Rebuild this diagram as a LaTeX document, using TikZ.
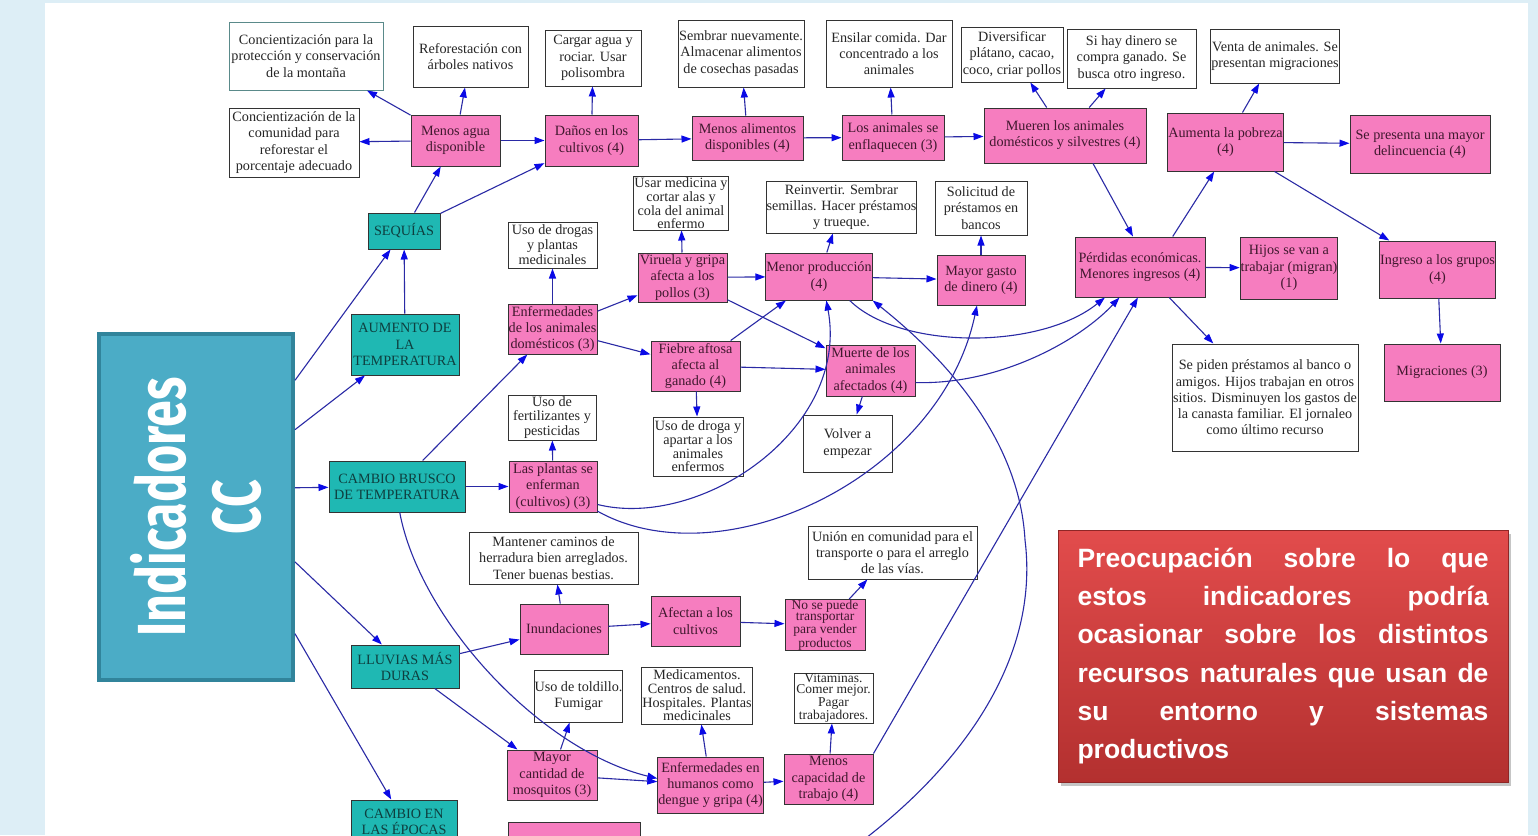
\documentclass[tikz,border=0pt]{standalone}
\usepackage{fontspec}
\setmainfont{Liberation Serif}
\newfontfamily\indfont{Fira Sans}
\newfontfamily\preofont{Liberation Sans}
\usepackage{tikz}
\usetikzlibrary{arrows.meta,shadows}
\definecolor{ccfondo}{HTML}{DDEEF6}
\definecolor{ccind}{HTML}{4BACC6}
\definecolor{ccindborde}{HTML}{31849B}
\definecolor{ccrosa}{HTML}{F67DBF}
\definecolor{ccturq}{HTML}{1FB8B3}
\definecolor{ccarista}{HTML}{2A2AA5}
\definecolor{ccpunta}{HTML}{0A0AE6}
\definecolor{ccverdoso}{HTML}{5A8A8A}
\definecolor{ccrojo1}{HTML}{E24C4C}
\definecolor{ccrojo2}{HTML}{B3302F}

\newcommand{\lineajust}[1]{\leavevmode\makebox[411pt][l]{#1}}

\tikzset{
  tam/.style 2 args={minimum width=#1pt, minimum height=#2pt},
  caja/.style={draw=black!80, line width=1pt, align=center, inner sep=0.5pt,
    font=\fontsize{14.2}{16.2}\selectfont, text=black!85},
  efecto/.style={caja, fill=ccrosa, text={rgb,255:red,64;green,24;blue,46}},
  accion/.style={caja, fill=white},
  indicador/.style={caja, fill=ccturq, text={rgb,255:red,14;green,63;blue,63}},
  apretado/.style={font=\fontsize{14.2}{12.7}\selectfont},
  flecha/.style={draw=ccarista, line width=1.1pt,
    -{Triangle[length=10pt,width=7pt,color=ccpunta]}},
  indbox/.style={draw=ccindborde, line width=4pt, fill=ccind},
  indtexto/.style={rotate=90, text=white, align=center, inner sep=0pt,
    font=\indfont\bfseries\fontsize{68}{75}\selectfont},
  preocupa/.style={draw=ccrojo2!80!black, line width=1pt, top color=ccrojo1,
    bottom color=ccrojo2, drop shadow={opacity=0.45, shadow xshift=3pt, shadow yshift=-4pt},
    text=white, align=left, inner sep=0pt,
    font=\preofont\bfseries\fontsize{26.5}{38.2}\selectfont}
}

\begin{document}
\begin{tikzpicture}[x=1pt, y=-1pt]
\useasboundingbox (0,0) rectangle (1538,835);
\clip (0,0) rectangle (1538,835);
\fill[ccfondo] (0,0) rectangle (1538,835);
\fill[white] (45,3) rectangle (1528,835);

% indicadores
\node[indbox, tam={194}{346}] (ind) at (196,507) {};
\node[indtexto] (indtxt) at (ind.center) {\scalebox{0.71}[1]{Indicadores}\\\scalebox{0.71}[1]{CC}};

\node[indicador, tam={72}{36}] (sequias) at (404,231) {SEQUÍAS};
\node[indicador, tam={108}{61}] (aumento) at (405,344.5) {AUMENTO DE\\LA\\TEMPERATURA};
\node[indicador, tam={136}{51}] (cambioB) at (397,486.5) {CAMBIO BRUSCO\\DE TEMPERATURA};
\node[indicador, tam={108}{43}] (lluvias) at (405,666.5) {LLUVIAS MÁS\\DURAS};
\node[indicador, tam={106}{43}] (cambioE) at (404,821.5) {CAMBIO EN\\LAS ÉPOCAS};

% efectos
\node[efecto, tam={89}{51}] (mAgua) at (455.5,140.5) {Menos agua\\disponible};
\node[efecto, tam={93}{51}] (dCult) at (591.5,140.5) {Daños en los\\cultivos (4)};
\node[efecto, tam={111}{44}] (mAlim) at (747.5,138) {Menos alimentos\\disponibles (4)};
\node[efecto, tam={102}{45}] (aEnfl) at (893,137.5) {Los animales se\\enflaquecen (3)};
\node[efecto, tam={162}{55}] (mueren) at (1065,135.5) {Mueren los animales\\domésticos y silvestres (4)};
\node[efecto, tam={115}{58}] (pobreza) at (1225.5,142) {Aumenta la pobreza\\(4)};
\node[efecto, tam={140}{58}] (delinc) at (1420,144) {Se presenta una mayor\\delincuencia (4)};
\node[efecto, tam={130}{60}] (perdidas) at (1140,267) {Pérdidas económicas.\\Menores ingresos (4)};
\node[efecto, tam={96}{62}] (hijos) at (1289,268) {Hijos se van a\\trabajar (migran)\\(1)};
\node[efecto, tam={115}{57}] (ingreso) at (1437.5,269.5) {Ingreso a los grupos\\(4)};
\node[efecto, tam={116}{57}] (migr) at (1442,372.5) {Migraciones (3)};
\node[efecto, tam={89}{49}] (viruela) at (682.5,277.5) {Viruela y gripa\\afecta a los\\pollos (3)};
\node[efecto, tam={89}{50}] (enfAnim) at (552.5,329) {Enfermedades\\de los animales\\domésticos (3)};
\node[efecto, tam={89}{50}] (fiebre) at (695.5,366) {Fiebre aftosa\\afecta al\\ganado (4)};
\node[efecto, tam={106}{47}] (menorProd) at (819,276.5) {Menor producción\\(4)};
\node[efecto, tam={88}{50}] (mGasto) at (981,280) {Mayor gasto\\de dinero (4)};
\node[efecto, tam={89}{51}] (muerte) at (870.5,370.5) {Muerte de los\\animales\\afectados (4)};
\node[efecto, tam={88}{51}] (plantas) at (553,486.5) {Las plantas se\\enferman\\(cultivos) (3)};
\node[efecto, tam={88}{50}] (inund) at (564,629) {Inundaciones};
\node[efecto, tam={89}{50}] (afectan) at (695.5,621) {Afectan a los\\cultivos};
\node[efecto, tam={80}{50}, font=\fontsize{13.5}{11.3}\selectfont] (noTransp) at (825,625) {No se puede\\transportar\\para vender\\productos};
\node[efecto, tam={90}{50}] (mosq) at (552,775) {Mayor\\cantidad de\\mosquitos (3)};
\node[efecto, tam={105}{56}] (enfHum) at (710.5,785) {Enfermedades en\\humanos como\\dengue y gripa (4)};
\node[efecto, tam={89}{50}] (menosCap) at (828.5,779) {Menos\\capacidad de\\trabajo (4)};
\node[efecto, tam={132}{40}, anchor=north west] (cortado) at (508,822) {};

% acciones
\node[accion, tam={154}{68}, draw=ccverdoso] (concProt) at (306,56) {Concientización para la\\protección y conservación\\de la montaña};
\node[accion, tam={115}{61}] (refor) at (470.5,56.5) {Reforestación con\\árboles nativos};
\node[accion, tam={96}{56}] (cargar) at (593,58) {Cargar agua y\\rociar. Usar\\polisombra};
\node[accion, tam={130}{69}] (concCom) at (294,142.5) {Concientización de la\\comunidad para\\reforestar el\\porcentaje adecuado};
\node[accion, tam={126}{67}] (sembrar) at (741,53.5) {Sembrar nuevamente.\\Almacenar alimentos\\de cosechas pasadas};
\node[accion, tam={126}{67}] (ensilar) at (889,53.5) {Ensilar comida. Dar\\concentrado a los\\animales};
\node[accion, tam={102}{55}] (divers) at (1012,54.5) {Diversificar\\plátano, cacao,\\coco, criar pollos};
\node[accion, tam={129}{59}] (siDinero) at (1131.5,58.5) {Si hay dinero se\\compra ganado. Se\\busca otro ingreso.};
\node[accion, tam={126}{54}] (venta) at (1275,56) {Venta de animales. Se\\presentan migraciones};
\node[accion, tam={92}{54}, apretado] (usarMed) at (681,203) {Usar medicina y\\cortar alas y\\cola del animal\\enfermo};
\node[accion, tam={89}{46}, font=\fontsize{14.2}{15}\selectfont] (usoDrogas) at (552.5,245) {Uso de drogas\\y plantas\\medicinales};
\node[accion, tam={149}{52}] (reinv) at (841.5,207) {Reinvertir. Sembrar\\semillas. Hacer préstamos\\y trueque.};
\node[accion, tam={92}{54}] (solic) at (981,208) {Solicitud de\\préstamos en\\bancos};
\node[accion, tam={186}{107}] (sePiden) at (1265,397.5) {Se piden préstamos al banco o\\amigos. Hijos trabajan en otros\\sitios. Disminuyen los gastos de\\la canasta familiar. El jornaleo\\como último recurso};
\node[accion, tam={88}{45}, font=\fontsize{14.2}{14.5}\selectfont] (usoFert) at (552,417.5) {Uso de\\fertilizantes y\\pesticidas};
\node[accion, tam={90}{59}, font=\fontsize{14.2}{13.7}\selectfont] (usoDroga) at (698,446.5) {Uso de droga y\\apartar a los\\animales\\enfermos};
\node[accion, tam={89}{57}] (volver) at (847.5,443.5) {Volver a\\empezar};
\node[accion, tam={169}{52}] (mantener) at (553.5,558) {Mantener caminos de\\herradura bien arreglados.\\Tener buenas bestias.};
\node[accion, tam={169}{53}] (union) at (892.5,552.5) {Unión en comunidad para el\\transporte o para el arreglo\\de las vías.};
\node[accion, tam={87}{52}] (toldillo) at (578.5,696) {Uso de toldillo.\\Fumigar};
\node[accion, tam={110}{57}, font=\fontsize{14.2}{13.7}\selectfont] (medic) at (697,695.5) {Medicamentos.\\Centros de salud.\\Hospitales. Plantas\\medicinales};
\node[accion, tam={79}{50}, font=\fontsize{13.5}{11}\selectfont] (vitam) at (833.5,698) {Vitaminas.\\Comer mejor.\\Pagar\\trabajadores.};

\coordinate (abajo) at (850,850);

% conexiones
\draw[flecha] (ind.52) -- (sequias);
\draw[flecha] (ind.38) -- (aumento);
\draw[flecha] (ind.11) -- (cambioB);
\draw[flecha] (ind.-29) -- (lluvias);
\draw[flecha] (ind.-52) -- (cambioE);
\draw[flecha] (aumento) -- (sequias);
\draw[flecha] (sequias) -- (mAgua);
\draw[flecha] (sequias) -- (dCult);
\draw[flecha] (mAgua) -- (concProt);
\draw[flecha] (mAgua) -- (refor);
\draw[flecha] (mAgua) -- (concCom);
\draw[flecha] (mAgua) -- (dCult);
\draw[flecha] (dCult) -- (cargar);
\draw[flecha] (dCult) -- (mAlim);
\draw[flecha] (mAlim) -- (sembrar);
\draw[flecha] (mAlim) -- (aEnfl);
\draw[flecha] (aEnfl) -- (ensilar);
\draw[flecha] (aEnfl) -- (mueren);
\draw[flecha] (mueren) -- (divers);
\draw[flecha] (mueren) -- (siDinero);
\draw[flecha] (mueren.-45) -- (perdidas.103);
\draw[flecha] (perdidas.43) -- (pobreza.-111);
\draw[flecha] (pobreza) -- (venta);
\draw[flecha] (pobreza) -- (delinc);
\draw[flecha] (pobreza) -- (ingreso);
\draw[flecha] (ingreso) -- (migr);
\draw[flecha] (perdidas) -- (hijos);
\draw[flecha] (perdidas) -- (sePiden);
\draw[flecha] (cambioB) -- (enfAnim);
\draw[flecha] (cambioB) -- (plantas);
\draw[flecha] (enfAnim) -- (usoDrogas);
\draw[flecha] (enfAnim) -- (viruela);
\draw[flecha] (enfAnim) -- (fiebre);
\draw[flecha] (viruela) -- (usarMed);
\draw[flecha] (viruela) -- (menorProd);
\draw[flecha] (viruela) -- (muerte);
\draw[flecha] (fiebre) -- (menorProd);
\draw[flecha] (fiebre) -- (muerte);
\draw[flecha] (fiebre) -- (usoDroga);
\draw[flecha] (menorProd) -- (reinv);
\draw[flecha] (menorProd) -- (mGasto);
\draw[flecha] (mGasto) -- (solic);
\draw[flecha] (muerte) -- (volver);
\draw[flecha] (menorProd.-38) .. controls (900,350) and (1040,350) .. (perdidas.-139);
\draw[flecha] (muerte.-15) .. controls (1000,385) and (1080,340) .. (perdidas.-124);
\draw[flecha] (plantas.-22) .. controls (700,530) and (850,430) .. (menorProd.-73);
\draw[flecha] (plantas.-29) .. controls (720,580) and (940,480) .. (mGasto.-99);
\draw[flecha] (abajo) .. controls (960,770) and (1040,660) .. (1025,540) .. controls (1020,450) and (960,370) .. (menorProd.south east);
\draw[flecha] (menosCap.north east) -- (perdidas.-94);
\draw[flecha] (plantas) -- (usoFert);
\draw[flecha] (lluvias) -- (inund);
\draw[flecha] (lluvias) -- (mosq);
\draw[flecha] (inund) -- (mantener);
\draw[flecha] (inund) -- (afectan);
\draw[flecha] (afectan) -- (noTransp);
\draw[flecha] (noTransp) -- (union);
\draw[flecha] (mosq) -- (toldillo);
\draw[flecha] (mosq) -- (enfHum);
\draw[flecha] (cambioB.-84) .. controls (420,620) and (540,750) .. (enfHum.173);
\draw[flecha] (enfHum) -- (medic);
\draw[flecha] (enfHum) -- (menosCap);
\draw[flecha] (menosCap) -- (vitam);

% preocupacion
\node[preocupa, tam={450}{252}, text width=411pt] (preoc) at (1283,656) {%
\lineajust{Preocupación\hfill sobre\hfill lo\hfill que}\\
\lineajust{estos\hfill indicadores\hfill podría}\\
\lineajust{ocasionar\hfill sobre\hfill los\hfill distintos}\\
\lineajust{recursos\hfill naturales\hfill que\hfill usan\hfill de}\\
\lineajust{su\hfill entorno\hfill y\hfill sistemas}\\
productivos};
\end{tikzpicture}
\end{document}
